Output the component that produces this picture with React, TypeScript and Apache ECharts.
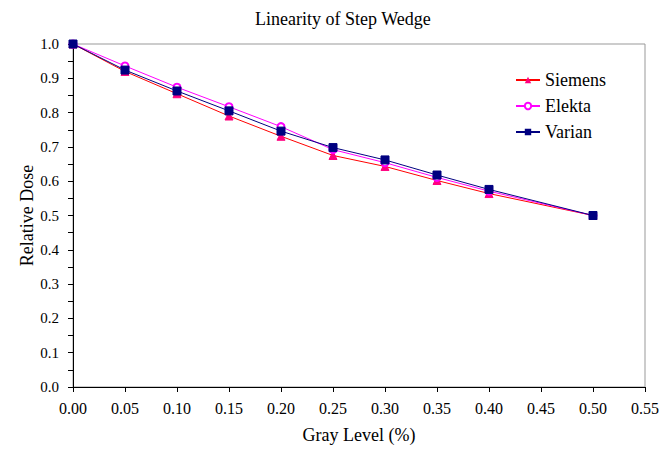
import React, { useEffect, useRef } from "react";
import * as echarts from "echarts";

const grayLevels = [0.0, 0.05, 0.1, 0.15, 0.2, 0.25, 0.3, 0.35, 0.4, 0.5];
const siemens = [1.0, 0.92, 0.855, 0.79, 0.731, 0.675, 0.643, 0.602, 0.564, 0.5];
const elekta = [1.0, 0.936, 0.874, 0.817, 0.759, 0.692, 0.654, 0.611, 0.571, 0.5];
const varian = [1.0, 0.924, 0.863, 0.805, 0.746, 0.698, 0.662, 0.618, 0.576, 0.5];

const FONT = "Liberation Serif";

export default function App() {
  const ref = useRef<HTMLDivElement>(null);
  useEffect(() => {
    if (!ref.current) return;
    const chart = echarts.init(ref.current, undefined, { renderer: "svg" });
    const pair = (ys: number[]) => grayLevels.map((x, i) => [x, ys[i]]);
    chart.setOption({
      animation: false,
      backgroundColor: "#ffffff",
      textStyle: { fontFamily: FONT, color: "#000" },
      title: {
        text: "Linearity of Step Wedge",
        left: 250,
        top: 5,
        textStyle: { fontFamily: FONT, fontWeight: "normal", fontSize: 18, color: "#000" },
      },
      legend: {
        orient: "vertical",
        left: 510,
        top: 66,
        itemGap: 8,
        itemWidth: 24,
        itemHeight: 8,
        textStyle: { fontFamily: FONT, fontSize: 18, color: "#000" },
        data: ["Siemens", "Elekta", "Varian"],
      },
      grid: {
        left: 73,
        right: 16,
        top: 44,
        bottom: 62,
        show: true,
        borderColor: "#999",
        borderWidth: 1,
        backgroundColor: "transparent",
      },
      xAxis: {
        type: "value",
        min: 0,
        max: 0.55,
        interval: 0.05,
        name: "Gray Level (%)",
        nameLocation: "middle",
        nameGap: 39,
        nameMoveOverlap: false,
        nameTextStyle: { fontFamily: FONT, fontSize: 18, color: "#000" },
        axisLine: { show: true, lineStyle: { color: "#000", width: 1 } },
        axisTick: { show: true, length: 5, lineStyle: { color: "#000" } },
        axisLabel: {
          fontFamily: FONT,
          fontSize: 16,
          color: "#000",
          margin: 13,
          formatter: (v: number) => v.toFixed(2),
        },
        splitLine: { show: false },
      },
      yAxis: {
        type: "value",
        min: 0,
        max: 1.0,
        interval: 0.1,
        name: "Relative Dose",
        nameLocation: "middle",
        nameGap: 37,
        nameMoveOverlap: false,
        nameTextStyle: { fontFamily: FONT, fontSize: 18, color: "#000" },
        axisLine: { show: true, lineStyle: { color: "#000", width: 1 } },
        axisTick: { show: true, length: 5, lineStyle: { color: "#000" } },
        minorTick: { show: true, splitNumber: 2, length: 5, lineStyle: { color: "#000" } },
        axisLabel: {
          fontFamily: FONT,
          fontSize: 15,
          color: "#000",
          margin: 14,
          formatter: (v: number) => v.toFixed(1),
        },
        splitLine: { show: false },
      },
      series: [
        {
          name: "Siemens",
          type: "line",
          data: pair(siemens),
          symbol: "triangle",
          symbolSize: 8,
          lineStyle: { color: "#ff0000", width: 1 },
          itemStyle: { color: "#ff0080", borderColor: "#ff0080" },
          z: 2,
        },
        {
          name: "Elekta",
          type: "line",
          data: pair(elekta),
          symbol: "emptyCircle",
          symbolSize: 7,
          lineStyle: { color: "#ff00ff", width: 1 },
          itemStyle: { color: "#ff00ff", borderColor: "#ff00ff", borderWidth: 1 },
          z: 3,
        },
        {
          name: "Varian",
          type: "line",
          data: pair(varian),
          symbol: "rect",
          symbolSize: 8,
          lineStyle: { color: "#000080", width: 1 },
          itemStyle: { color: "#000080", borderColor: "#000080" },
          z: 4,
        },
      ],
    });
    return () => chart.dispose();
  }, []);
  return (
    <div
      ref={ref}
      style={{ position: "absolute", left: 0, top: 0, width: 662, height: 449, background: "#fff" }}
    />
  );
}
